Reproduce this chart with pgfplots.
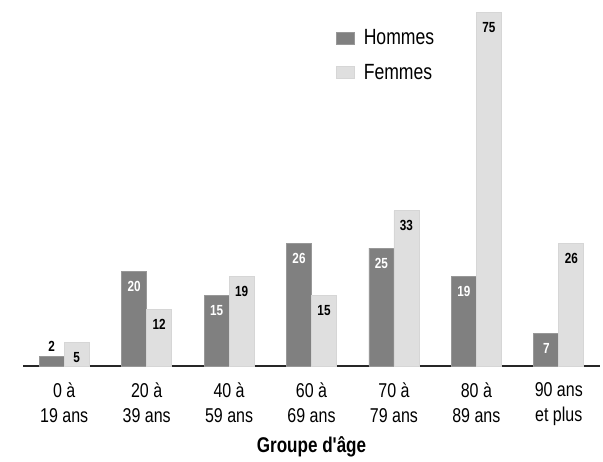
\documentclass[border=0pt]{standalone}
\usepackage{fontspec}
\setmainfont{Liberation Sans}[FakeStretch=0.8, Ligatures=TeXOff]
\usepackage{pgfplots}
\pgfplotsset{compat=1.18}

\definecolor{homme}{HTML}{808080}
\definecolor{hommeb}{HTML}{989898}
\definecolor{femme}{HTML}{DFDFDF}
\definecolor{femmeb}{HTML}{D6D6D6}

% label placement: small bars get their label above
\tikzset{
  hlab/.code={\ifdim\rawy pt<3pt\pgfkeysalso{yshift=7.5pt,text=black}\else\pgfkeysalso{yshift=-11.25pt,text=white}\fi},
  flab/.code={\pgfkeysalso{yshift=-11.25pt,text=black}}
}

\begin{document}
\begin{tikzpicture}
\begin{axis}[
    scale only axis,
    width=432.75pt, height=274.5pt,
    xmin=-0.5, xmax=6.5, ymin=0, ymax=77.7,
    ybar=0pt, bar width=18.75pt,
    axis x line=bottom, axis y line=none,
    x axis line style={-, line width=0.9pt, black!85},
    xtick={0,...,6}, major tick length=0pt,
    xticklabels={{0 à\\19 ans},{20 à\\39 ans},{40 à\\59 ans},{60 à\\69 ans},{70 à\\79 ans},{80 à\\89 ans},{90 ans\\et plus}},
    xticklabel style={align=center, font=\fontsize{15}{18.75}\selectfont, yshift=-9pt},
    xlabel={Groupe d'âge},
    xlabel style={font=\bfseries\fontsize{16}{17}\selectfont, at={(axis description cs:0.5,0)}, anchor=base, yshift=-65.25pt},
    /pgf/number format/assume math mode=true,
    nodes near coords,
    visualization depends on=rawy \as \rawy,
    every node near coord/.append style={font=\bfseries\fontsize{11}{12}\selectfont, anchor=center},
    clip=false,
    legend style={at={(0.5425,0.927)}, anchor=north west, draw=none, fill=none,
        font=\fontsize{16.5}{18}\selectfont, row sep=9pt, inner sep=0pt,
        nodes={inner xsep=6.5pt}},
    legend cell align=left,
]
\addplot[fill=homme, draw=hommeb, line width=0.6pt,
    every node near coord/.append style={hlab},
    legend image code/.code={\draw[fill=homme, draw=hommeb] (0pt,-4.5pt) rectangle (13.5pt,4.5pt);}]
    coordinates {(0,2) (1,20) (2,15) (3,26) (4,25) (5,19) (6,7)};
\addlegendentry{Hommes}
\addplot[fill=femme, draw=femmeb, line width=0.6pt,
    every node near coord/.append style={flab},
    legend image code/.code={\draw[fill=femme, draw=femmeb] (0pt,-4.5pt) rectangle (13.5pt,4.5pt);}]
    coordinates {(0,5) (1,12) (2,19) (3,15) (4,33) (5,75) (6,26)};
\addlegendentry{Femmes}
\path (axis description cs:-0.0399,1) (axis description cs:1.0052,0);
\end{axis}
\end{tikzpicture}
\end{document}
